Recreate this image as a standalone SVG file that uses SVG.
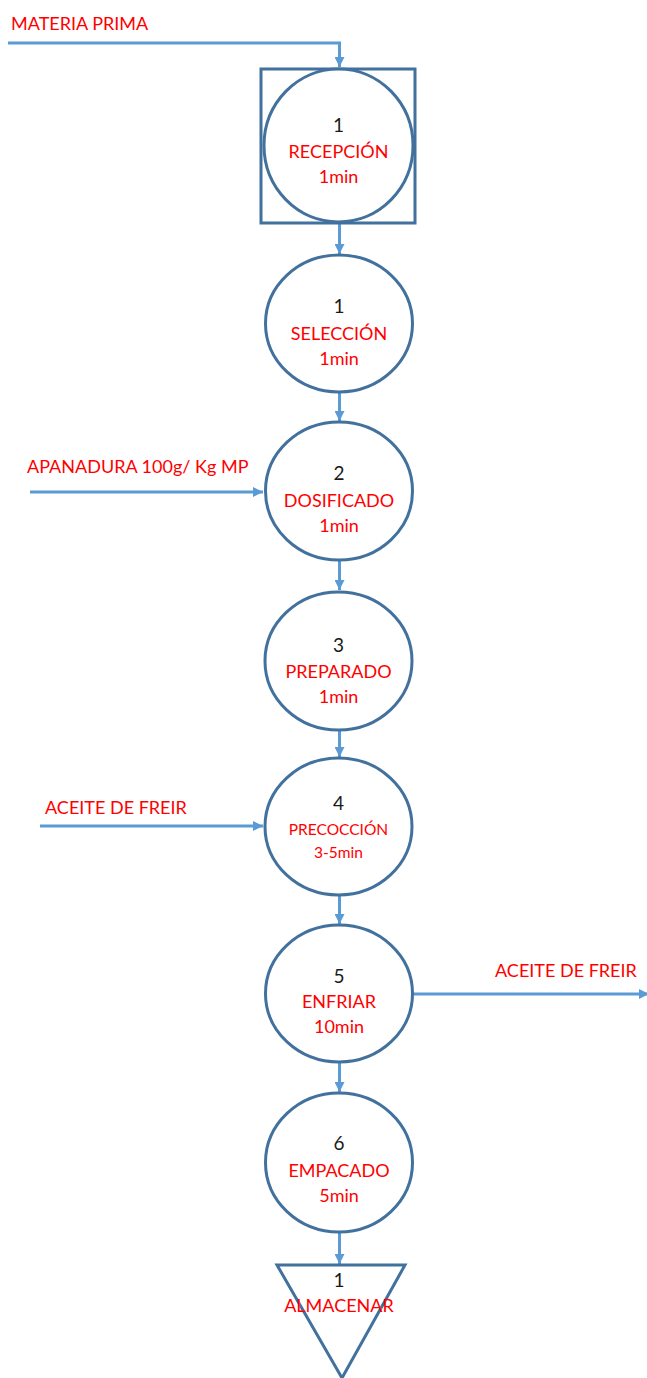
<svg xmlns="http://www.w3.org/2000/svg" width="647" height="1378" viewBox="0 0 647 1378">
<style>
.shape{fill:#fff;stroke:#41719C;stroke-width:3}
.conn{fill:none;stroke:#5B9BD5;stroke-width:3}
.num{font-family:Lato,"Liberation Sans",sans-serif;font-size:19px;fill:#1a1a1a;text-anchor:middle}
.lbl{font-family:Lato,"Liberation Sans",sans-serif;font-size:18px;fill:#FF0000;text-anchor:middle}
.sm{font-size:15.5px}
.ext{font-family:Lato,"Liberation Sans",sans-serif;font-size:18px;fill:#FF0000}
</style>
<defs>
<marker id="ah" markerUnits="userSpaceOnUse" markerWidth="10" markerHeight="10" viewBox="0 0 10 10" refX="10" refY="5" orient="auto">
<path d="M0,0 L10,5 L0,10 z" fill="#5B9BD5"/>
</marker>
</defs>
<rect width="647" height="1378" fill="#fff"/>
<g id="connectors">
<path class="conn" d="M8,43 H339.5 V67" marker-end="url(#ah)"/>
<path class="conn" d="M339.5,224 V254" marker-end="url(#ah)"/>
<path class="conn" d="M339.5,392 V421" marker-end="url(#ah)"/>
<path class="conn" d="M339.5,560 V590" marker-end="url(#ah)"/>
<path class="conn" d="M339.5,730 V757" marker-end="url(#ah)"/>
<path class="conn" d="M339.5,895 V924" marker-end="url(#ah)"/>
<path class="conn" d="M339.5,1062 V1092" marker-end="url(#ah)"/>
<path class="conn" d="M339.5,1232 V1264" marker-end="url(#ah)"/>
<path class="conn" d="M30,492 H263" marker-end="url(#ah)"/>
<path class="conn" d="M40,826 H263" marker-end="url(#ah)"/>
<path class="conn" d="M413,994 H649" marker-end="url(#ah)"/>
</g>
<g id="lbl-materia"><text class="ext" x="11" y="30">MATERIA PRIMA</text></g>
<g id="lbl-apanadura"><text class="ext" x="27" y="473">APANADURA 100g/ Kg MP</text></g>
<g id="lbl-aceite-in"><text class="ext" x="45" y="814">ACEITE DE FREIR</text></g>
<g id="lbl-aceite-out"><text class="ext" x="495" y="977">ACEITE DE FREIR</text></g>
<g id="n1">
<rect class="shape" x="261" y="69" width="154" height="154"/>
<ellipse class="shape" cx="338.5" cy="145.5" rx="74.5" ry="76.5"/>
<text class="num" x="338.5" y="132">1</text>
<text class="lbl" x="338.5" y="158">RECEPCIÓN</text>
<text class="lbl" x="338.5" y="183">1min</text>
</g>
<g id="n2">
<ellipse class="shape" cx="339" cy="323.5" rx="73.5" ry="68.5"/>
<text class="num" x="339" y="313">1</text>
<text class="lbl" x="339" y="340">SELECCIÓN</text>
<text class="lbl" x="339" y="365">1min</text>
</g>
<g id="n3">
<ellipse class="shape" cx="339" cy="491" rx="73.5" ry="69"/>
<text class="num" x="339" y="480">2</text>
<text class="lbl" x="339" y="507">DOSIFICADO</text>
<text class="lbl" x="339" y="532">1min</text>
</g>
<g id="n4">
<ellipse class="shape" cx="338.5" cy="661" rx="73.5" ry="69"/>
<text class="num" x="338.5" y="652">3</text>
<text class="lbl" x="338.5" y="678">PREPARADO</text>
<text class="lbl" x="338.5" y="703">1min</text>
</g>
<g id="n5">
<ellipse class="shape" cx="338.5" cy="826.5" rx="73.5" ry="68.5"/>
<text class="num" x="338.5" y="810">4</text>
<text class="lbl sm" x="338.5" y="835">PRECOCCIÓN</text>
<text class="lbl sm" x="338.5" y="858">3-5min</text>
</g>
<g id="n6">
<ellipse class="shape" cx="339" cy="993.5" rx="73.5" ry="68.5"/>
<text class="num" x="339" y="983">5</text>
<text class="lbl" x="339" y="1008">ENFRIAR</text>
<text class="lbl" x="339" y="1033">10min</text>
</g>
<g id="n7">
<ellipse class="shape" cx="339" cy="1162.5" rx="73.5" ry="69.5"/>
<text class="num" x="339" y="1150">6</text>
<text class="lbl" x="339" y="1177">EMPACADO</text>
<text class="lbl" x="339" y="1202">5min</text>
</g>
<g id="n8">
<path class="shape" d="M277,1265 H405 L342,1378 Z"/>
<text class="num" x="339" y="1287">1</text>
<text class="lbl" x="339" y="1312">ALMACENAR</text>
</g>
</svg>
